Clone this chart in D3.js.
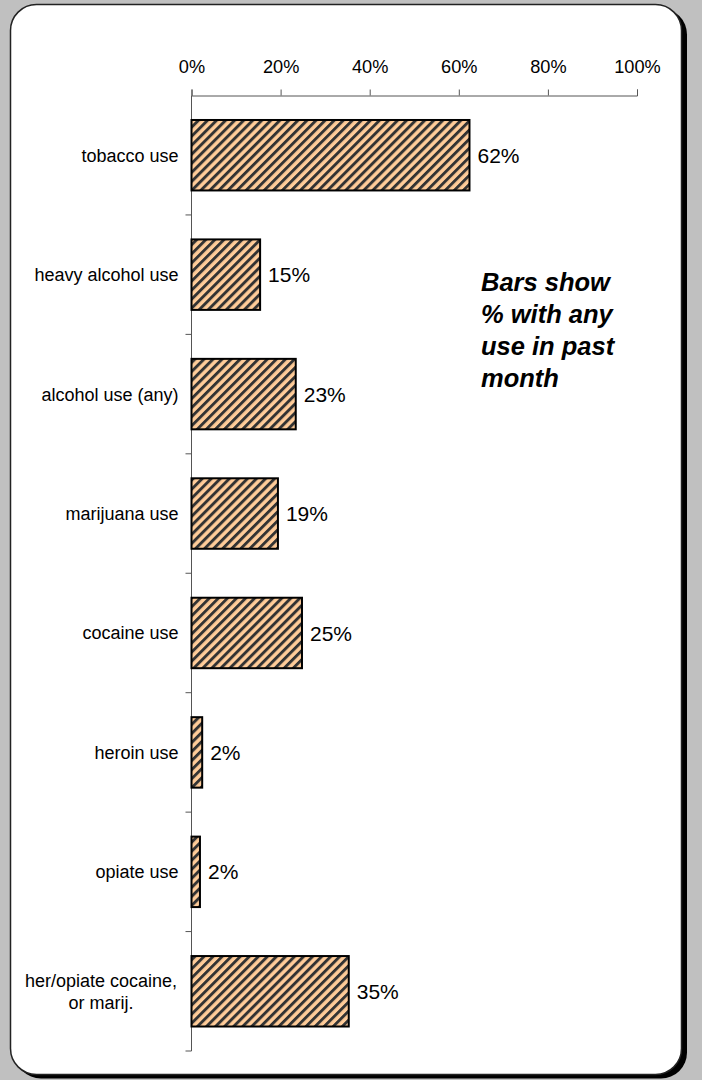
<!DOCTYPE html>
<html><head><meta charset="utf-8">
<script src="https://cdn.jsdelivr.net/npm/d3@7"></script>
<style>html,body{margin:0;padding:0;background:#c0c0c0;}svg{display:block;}</style>
</head><body>
<script>
const categories = ["tobacco use","heavy alcohol use","alcohol use (any)","marijuana use","cocaine use","heroin use","opiate use","her/opiate cocaine,\nor marij."];
const values = [0.624, 0.154, 0.234, 0.194, 0.248, 0.024, 0.019, 0.353];
const tickValues = [0, 0.2, 0.4, 0.6, 0.8, 1.0];
const noteLines = ["Bars show", "% with any", "use in past", "month"];

const W = 702, H = 1080;
const svg = d3.select("body").append("svg").attr("width", W).attr("height", H);
const font = "'Liberation Sans', Arial, sans-serif";

// panel
svg.append("rect").attr("x", 15).attr("y", 8.5).attr("width", 672).attr("height", 1070).attr("rx", 26).attr("fill", "#000");
svg.append("rect").attr("x", 10.5).attr("y", 4.5).attr("width", 671).attr("height", 1070).attr("rx", 26)
  .attr("fill", "#fff").attr("stroke", "#222").attr("stroke-width", 1.5);

const defs = svg.append("defs");
const pat = defs.append("pattern").attr("id", "hatch").attr("patternUnits", "userSpaceOnUse")
  .attr("width", 6.4).attr("height", 6.4).attr("patternTransform", "rotate(45)");
pat.append("rect").attr("width", 6.4).attr("height", 6.4).attr("fill", "#ffcc99");
pat.append("rect").attr("x", 0).attr("y", 0).attr("width", 2.9).attr("height", 6.4).attr("fill", "#333");

const x = d3.scaleLinear().domain([0, 1]).range([191.5, 637]);
const y = d3.scaleBand().domain(categories).range([95.5, 1051]).paddingInner(0.41).paddingOuter(0.205);

// top axis
const xAxis = d3.axisTop(x).tickValues(tickValues).tickFormat(d3.format(".0%")).tickSizeOuter(0).tickSize(6).tickPadding(17);
const gx = svg.append("g").attr("transform", "translate(0,95.5)").call(xAxis);
gx.select(".domain").attr("stroke", "#555");
gx.selectAll(".tick line").attr("stroke", "#555");
gx.selectAll(".tick text").attr("font-family", font).attr("font-size", 18.2).attr("fill", "#000");

// left axis with boundary ticks
const bounds = d3.range(categories.length + 1).map(i => y.range()[0] + i * y.step());
svg.append("line").attr("x1", x(0)).attr("x2", x(0)).attr("y1", 95.5).attr("y2", 1051).attr("stroke", "#555");
svg.selectAll(".bt").data(bounds.slice(1)).join("line").attr("class", "bt")
  .attr("x1", x(0) - 6).attr("x2", x(0)).attr("y1", d => d).attr("y2", d => d).attr("stroke", "#555");

// bars
svg.selectAll(".bar").data(categories).join("rect").attr("class", "bar")
  .attr("x", x(0)).attr("y", d => y(d)).attr("width", (d, i) => x(values[i]) - x(0)).attr("height", y.bandwidth())
  .attr("fill", "url(#hatch)").attr("stroke", "#000").attr("stroke-width", 2);

// value labels
svg.selectAll(".val").data(categories).join("text").attr("class", "val")
  .attr("x", (d, i) => x(values[i]) + 8).attr("y", d => y(d) + y.bandwidth() / 2).attr("dy", "0.36em")
  .attr("font-family", font).attr("font-size", 21).text((d, i) => Math.round(values[i] * 100) + "%");

// category labels
categories.forEach(c => {
  const lines = c.split("\n");
  const cy = y(c) + y.bandwidth() / 2;
  const t = svg.append("text").attr("font-family", font).attr("font-size", 18);
  if (lines.length === 1) {
    t.attr("x", 178.5).attr("y", cy).attr("dy", "0.36em").attr("text-anchor", "end").text(c);
  } else {
    const lh = 22.5;
    const tsp = lines.map((l, k) => t.append("tspan").attr("y", cy + (k - (lines.length - 1) / 2) * lh).attr("dy", "0.36em").text(l));
    const maxW = d3.max(tsp, s => s.node().getComputedTextLength());
    tsp.forEach(s => s.attr("x", 177 - maxW / 2));
    t.attr("text-anchor", "middle");
  }
});

// note
svg.append("text").attr("font-family", font).attr("font-size", 25.5).attr("font-weight", "bold").attr("font-style", "italic")
  .selectAll("tspan").data(noteLines).join("tspan").attr("x", 481).attr("y", (d, i) => 291 + i * 32).text(d => d);
</script>
</body></html>
